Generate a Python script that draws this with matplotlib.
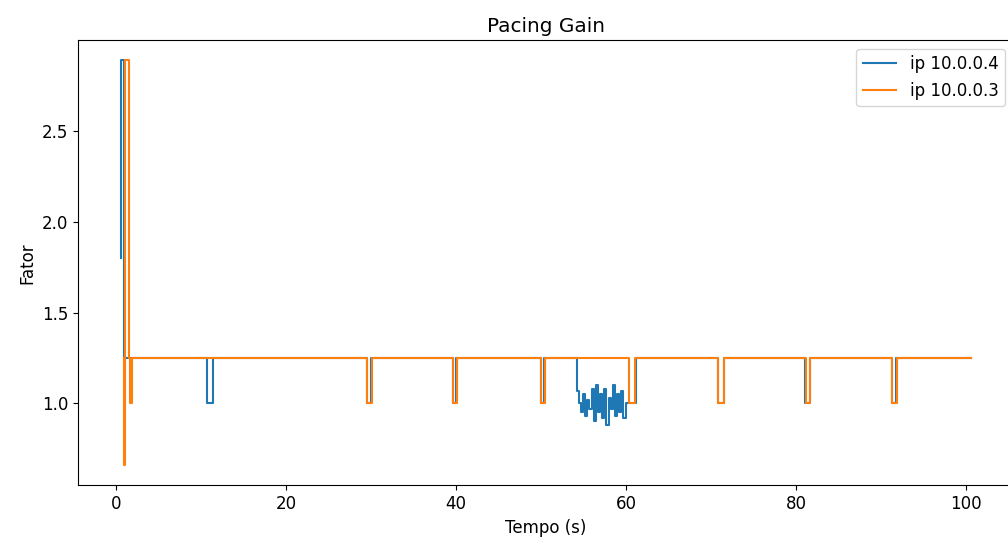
import matplotlib
matplotlib.use("Agg")
import matplotlib.pyplot as plt

# pacing gain samples (time in s, gain factor)
blue_t = [0.5, 0.55, 0.85, 0.9,
          10.6, 10.7, 11.3, 11.4,
          29.4, 29.5, 29.9, 30.0,
          39.5, 39.6, 39.9, 40.0,
          49.85, 49.95, 50.3, 50.4,
          54.1,
          54.2, 54.45, 54.7, 54.95, 55.2, 55.45, 55.7, 55.95, 56.2, 56.45,
          56.7, 56.95, 57.2, 57.45, 57.7, 57.95, 58.2, 58.45, 58.7, 58.95,
          59.2, 59.45, 59.7, 59.95, 60.2,
          61.1, 61.2,
          70.7, 70.8, 71.4, 71.5,
          81.0, 81.1, 81.5, 81.6,
          91.2, 91.3, 91.7, 91.8,
          100.6]
blue_v = [1.8, 2.89, 2.89, 1.25,
          1.25, 1.0, 1.0, 1.25,
          1.25, 1.0, 1.0, 1.25,
          1.25, 1.0, 1.0, 1.25,
          1.25, 1.0, 1.0, 1.25,
          1.25,
          1.07, 1.0, 0.95, 1.05, 0.93, 1.02, 0.97, 1.08, 0.9, 1.1,
          0.95, 1.05, 0.92, 1.08, 0.88, 1.03, 0.97, 1.1, 0.93, 1.05,
          0.95, 1.07, 0.92, 1.0, 1.0,
          1.0, 1.25,
          1.25, 1.0, 1.0, 1.25,
          1.25, 1.0, 1.0, 1.25,
          1.25, 1.0, 1.0, 1.25,
          1.25]

orange_t = [0.9, 0.95, 1.05, 1.4, 1.45, 1.5, 1.6, 1.85, 1.9,
            29.45, 29.55, 29.95, 30.05,
            39.55, 39.65, 39.95, 40.05,
            49.95, 50.05, 50.35, 50.45,
            60.3, 60.4, 61.0, 61.1,
            70.75, 70.85, 71.45, 71.55,
            81.05, 81.15, 81.55, 81.65,
            91.25, 91.35, 91.75, 91.85,
            100.6]
orange_v = [1.25, 0.66, 2.89, 2.89, 1.4, 1.25, 1.0, 1.0, 1.25,
            1.25, 1.0, 1.0, 1.25,
            1.25, 1.0, 1.0, 1.25,
            1.25, 1.0, 1.0, 1.25,
            1.25, 1.0, 1.0, 1.25,
            1.25, 1.0, 1.0, 1.25,
            1.25, 1.0, 1.0, 1.25,
            1.25, 1.0, 1.0, 1.25,
            1.25]

plt.rcParams["font.size"] = 12

fig = plt.figure(figsize=(10.08, 5.44), dpi=100)
# the reference is cropped on the right, so the axes run past the figure edge
ax = fig.add_axes([0.0774, 0.108, 0.928, 0.818])

ax.plot(blue_t, blue_v, color="tab:blue", label="ip 10.0.0.4", drawstyle="steps-post")
ax.plot(orange_t, orange_v, color="tab:orange", label="ip 10.0.0.3", drawstyle="steps-post")

ax.set_title("Pacing Gain")
ax.set_xlabel("Tempo (s)")
ax.set_ylabel("Fator")
ax.set_xticks([0, 20, 40, 60, 80, 100])
ax.set_yticks([1.0, 1.5, 2.0, 2.5])
ax.legend(loc="upper right")

fig.savefig("out.png", dpi=100)
